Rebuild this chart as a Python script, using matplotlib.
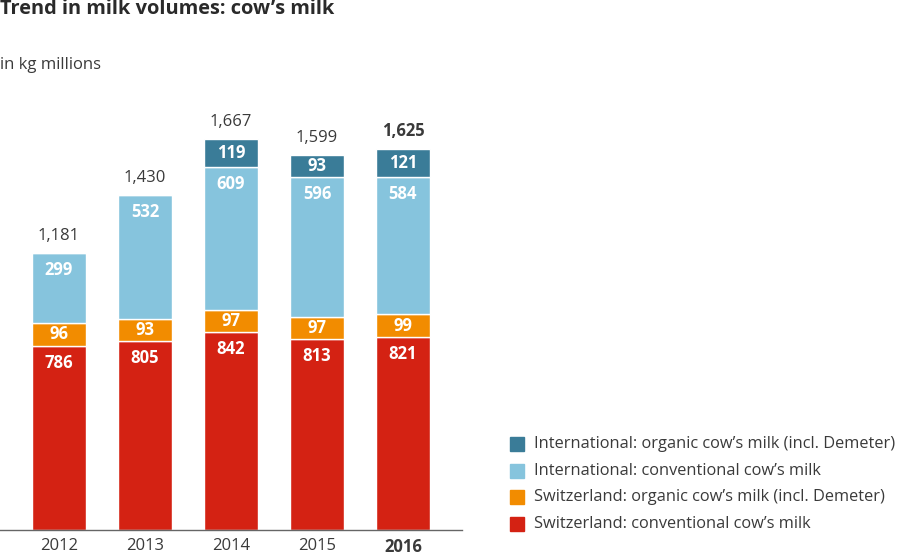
import matplotlib
matplotlib.use("Agg")
import matplotlib.pyplot as plt
from matplotlib.patches import Rectangle
import numpy as np

YEARS = ["2012", "2013", "2014", "2015", "2016"]
CH_CONV = [786, 805, 842, 813, 821]
CH_ORG = [96, 93, 97, 97, 99]
INT_CONV = [299, 532, 609, 596, 584]
INT_ORG = [0, 0, 119, 93, 121]
TOTALS = ["1,181", "1,430", "1,667", "1,599", "1,625"]

SERIES = [
    (CH_CONV, "#D42213", "Switzerland: conventional cow\u2019s milk"),
    (CH_ORG, "#F28C00", "Switzerland: organic cow\u2019s milk (incl. Demeter)"),
    (INT_CONV, "#86C4DD", "International: conventional cow\u2019s milk"),
    (INT_ORG, "#3A7C98", "International: organic cow\u2019s milk (incl. Demeter)"),
]

plt.rcParams["font.family"] = ["Open Sans", "DejaVu Sans"]
TXT = "#3a3a3a"

fig = plt.figure(figsize=(9, 5.6), dpi=100)
W, H = 900, 560
ax = fig.add_axes([0, 30 / H, 462 / W, 400 / H])
px_per_unit = 0.2346
ax.set_ylim(0, 400 / px_per_unit)
ax.set_xlim(-59 / 86, (462 - 59) / 86)
off = 17 / px_per_unit  # label sits ~17px below segment top

x = np.arange(len(YEARS))
bottom = np.zeros(len(YEARS))
for vals, col, lab in SERIES:
    v = np.array(vals, dtype=float)
    ax.bar(x, v, 0.62, bottom=bottom, color=col, edgecolor="white",
           linewidth=1.0, zorder=2)
    for i, val in enumerate(v):
        if val > 0:
            yl = bottom[i] + val - min(off, val / 2)
            ax.text(x[i], yl, f"{int(val)}", ha="center",
                    va="center", color="white", fontsize=12, fontweight="bold",
                    zorder=3)
    bottom += v

for i, t in enumerate(TOTALS):
    ax.text(x[i], bottom[i] + 36, t, ha="center", va="bottom", color=TXT,
            fontsize=12, fontweight="bold" if i == len(YEARS) - 1 else "normal")

for s in ["top", "right", "left"]:
    ax.spines[s].set_visible(False)
ax.spines["bottom"].set_color("#666666")
ax.spines["bottom"].set_linewidth(1.0)
ax.set_yticks([])
ax.set_xticks(x)
ax.set_xticklabels(YEARS)
ax.tick_params(axis="x", length=0, pad=6, labelsize=12, labelcolor=TXT)
ax.get_xticklabels()[-1].set_fontweight("bold")

fig.text(0, 1 - 9 / H, "Trend in milk volumes: cow\u2019s milk", ha="left",
         va="center", fontsize=14.4, fontweight="bold", color="#2a2a2a")
fig.text(0, 1 - 65 / H, "in kg millions", ha="left", va="center",
         fontsize=12, color=TXT)

# legend, top entry first
for k, (vals, col, lab) in enumerate(SERIES[::-1]):
    yc = 1 - (444 + 26.7 * k) / H
    fig.patches.append(Rectangle((510 / W, yc - 7 / H), 14 / W, 14 / H,
                                 transform=fig.transFigure, color=col))
    fig.text(534 / W, yc, lab, ha="left", va="center", fontsize=11.8, color=TXT)

fig.savefig("out.png", dpi=100)
